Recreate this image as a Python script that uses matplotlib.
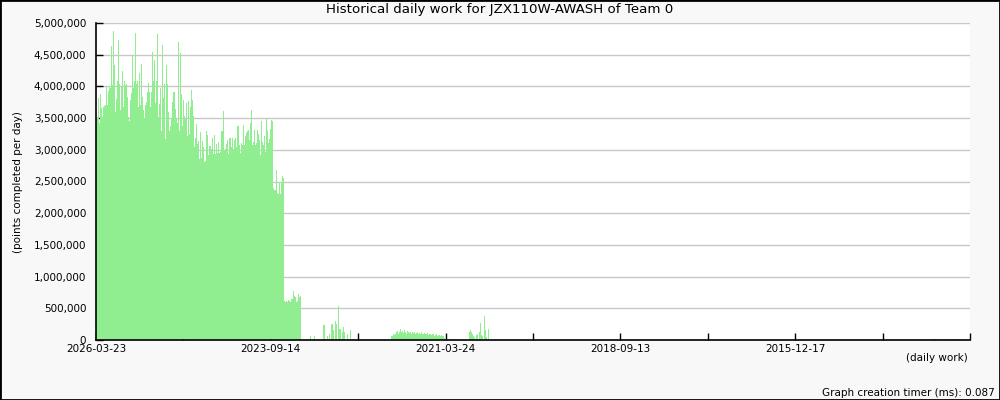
import matplotlib
matplotlib.use("Agg")
import matplotlib.pyplot as plt
from matplotlib.ticker import FuncFormatter, MultipleLocator
from matplotlib.patches import Rectangle

# x positions are record slots (oldest on the right), values in millions of points
main_start = 0
main_work_m = [
    3.50, 3.50, 3.81, 3.42, 3.88, 3.66, 3.51, 3.68, 3.69, 3.70,
    4.00, 3.71, 3.92, 3.99, 3.98, 4.63, 4.02, 4.87, 4.34, 3.59,
    3.80, 4.09, 4.73, 4.03, 3.62, 4.00, 4.25, 3.68, 4.08, 4.02,
    4.03, 3.83, 3.51, 3.46, 3.79, 3.89, 4.50, 3.97, 4.09, 4.84,
    4.04, 4.09, 3.68, 4.21, 3.71, 4.36, 3.84, 3.63, 3.50, 3.71,
    3.76, 3.91, 4.05, 3.91, 3.68, 3.91, 4.55, 4.08, 4.41, 3.74,
    4.08, 4.83, 3.51, 3.72, 3.97, 3.29, 4.65, 3.81, 4.04, 3.17,
    4.34, 4.03, 3.59, 3.29, 3.37, 3.50, 3.76, 3.91, 3.91, 3.65,
    3.50, 3.42, 4.70, 3.29, 4.53, 3.88, 3.38, 3.79, 3.54, 3.50,
    3.74, 3.21, 3.77, 3.25, 3.68, 3.95, 3.79, 3.53, 3.04, 3.19,
    3.40, 3.09, 3.14, 2.86, 3.28, 2.87, 3.14, 3.04, 2.80, 2.83,
    3.29, 3.23, 2.92, 3.06, 3.06, 3.01, 3.18, 2.93, 3.23, 2.93,
    3.09, 2.95, 3.12, 2.95, 2.97, 3.29, 3.29, 3.61, 2.98, 3.01,
    3.09, 3.16, 2.93, 3.18, 3.19, 3.04, 3.18, 3.01, 3.16, 3.19,
    3.04, 3.37, 3.38, 3.08, 2.95, 3.11, 3.08, 3.39, 3.08, 3.21,
    3.26, 3.29, 3.31, 3.16, 3.42, 3.62, 3.08, 3.13, 3.31, 3.08,
    3.11, 3.31, 3.25, 3.16, 2.92, 3.45, 3.12, 3.08, 3.22, 2.96,
    3.50, 3.32, 3.11, 3.17, 3.33, 3.47, 3.45, 2.40, 2.37, 2.36,
    2.68, 2.32, 2.30, 2.47, 2.30, 2.50, 2.59, 2.55, 0.62, 0.60,
    0.62, 0.60, 0.63, 0.61, 0.60, 0.64, 0.65, 0.77, 0.70, 0.68,
    0.60, 0.61, 0.72, 0.68, 0.70,
]

sparse_slots = [
    214, 218, 227, 228, 231, 233, 235, 236, 237, 239, 240, 242, 243, 244,
    246, 247, 248, 251, 254,
]
sparse_work_m = [
    0.06, 0.06, 0.24, 0.24, 0.06, 0.09, 0.26, 0.26, 0.15, 0.30, 0.26, 0.54, 0.18, 0.17,
    0.13, 0.21, 0.13, 0.09, 0.15,
]

mid_start = 295
mid_work_m = [
    0.06, 0.07, 0.09, 0.08, 0.10, 0.12, 0.14, 0.10, 0.13, 0.17,
    0.12, 0.14, 0.11, 0.15, 0.12, 0.10, 0.14, 0.12, 0.11, 0.13,
    0.10, 0.12, 0.11, 0.13, 0.10, 0.11, 0.12, 0.09, 0.11, 0.10,
    0.12, 0.09, 0.10, 0.11, 0.09, 0.10, 0.11, 0.08, 0.10, 0.09,
    0.08, 0.10, 0.09, 0.07, 0.08, 0.09, 0.07, 0.08, 0.08, 0.07,
    0.08, 0.06, 0.07, 0.03, 0.02, 0.02,
]

late_slots = [353, 355, 357, 359, 362, 364,
              373, 374, 375, 376, 377, 378, 380, 381, 383, 384, 385, 386, 388, 389, 390, 392, 399]
late_work_m = [0.02, 0.02, 0.02, 0.02, 0.02, 0.02,
               0.12, 0.15, 0.13, 0.10, 0.06, 0.04, 0.08, 0.10, 0.12, 0.27, 0.08, 0.06, 0.38, 0.15, 0.04, 0.18, 0.01]

old_slots = [836, 837, 838, 839, 840, 843, 846, 847, 848, 849, 850, 851, 852,
             855, 856, 857, 858, 859, 860, 861, 862, 863, 864, 865, 866]
old_work_m = [0.015] * len(old_slots)

tick_labels = ["2026-03-23", "2023-09-14", "2021-03-24", "2018-09-13", "2015-12-17"]

n_slots = 875
bar_color = "#90ee90"
small = 7.5

fig = plt.figure(figsize=(10, 4), dpi=100, facecolor="#f8f8f8")
ax = fig.add_axes([0.096, 0.15, 0.874, 0.7925])
ax.set_facecolor("white")

xs = [main_start + i for i in range(len(main_work_m))]
xs += sparse_slots
xs += [mid_start + i for i in range(len(mid_work_m))]
xs += late_slots + old_slots
ys = main_work_m + sparse_work_m + mid_work_m + late_work_m + old_work_m
ax.bar(xs, ys, width=1.0, align="edge", color=bar_color, linewidth=0, zorder=2)

ax.set_xlim(0, n_slots)
ax.set_ylim(0, 5.0)
ax.yaxis.set_major_locator(MultipleLocator(0.5))
ax.yaxis.set_major_formatter(FuncFormatter(lambda v, p: "{:,}".format(int(round(v * 1e6)))))
ax.grid(axis="y", color="#c8c8c8", linewidth=1, zorder=1)
ax.set_axisbelow(True)

ax.set_xticks([i * 87.5 for i in range(11)])
ax.set_xticklabels([tick_labels[i // 2] if i % 2 == 0 and i // 2 < len(tick_labels) else "" for i in range(11)])

ax.tick_params(axis="both", direction="in", length=5, width=1, color="black", labelsize=small)
ax.tick_params(axis="y", pad=7)
ax.tick_params(axis="x", pad=3)

for s in ["top", "right"]:
    ax.spines[s].set_visible(False)
for s in ["left", "bottom"]:
    ax.spines[s].set_color("black")
    ax.spines[s].set_linewidth(1.2)

fig.text(0.5, 0.975, "Historical daily work for JZX110W-AWASH of Team 0", ha="center", va="center", fontsize=9.6)
fig.text(0.018, 0.545, "(points completed per day)", rotation=90, ha="center", va="center", fontsize=small)
fig.text(0.968, 0.105, "(daily work)", ha="right", va="center", fontsize=small)
fig.text(0.995, 0.018, "Graph creation timer (ms): 0.087", ha="right", va="center", fontsize=small)

fig.patches.append(Rectangle((0, 0), 1, 1, transform=fig.transFigure, fill=False,
                             edgecolor="black", linewidth=2))

fig.savefig("out.png", dpi=100, facecolor=fig.get_facecolor())
